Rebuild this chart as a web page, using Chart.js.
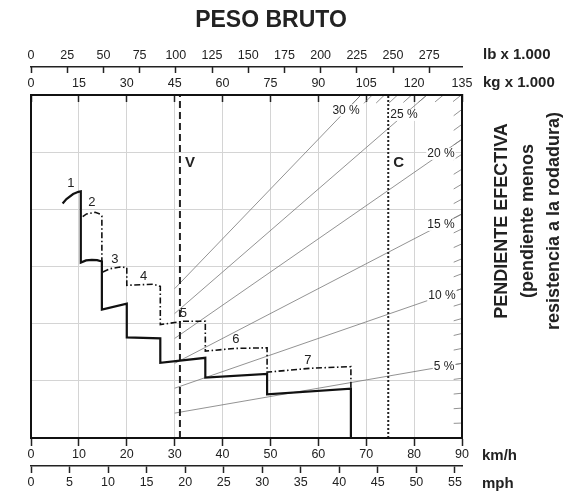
<!DOCTYPE html>
<html>
<head>
<meta charset="utf-8">
<title>Peso bruto / pendiente efectiva</title>
<script src="https://cdn.jsdelivr.net/npm/chart.js"></script>
<style>
	html, body { margin: 0; padding: 0; background: #fff; }
</style>
</head>
<body>
<canvas id="rimpull" width="580" height="495"></canvas>

<script>
	// ------------------
	// --- Chart data ---
	// ------------------
	var kmhTicks = [0, 10, 20, 30, 40, 50, 60, 70, 80, 90];
	var mphTicks = [0, 5, 10, 15, 20, 25, 30, 35, 40, 45, 50, 55];
	var kgTicks = [0, 15, 30, 45, 60, 75, 90, 105, 120, 135];
	var lbTicks = [0, 25, 50, 75, 100, 125, 150, 175, 200, 225, 250, 275];

	var KMH_PER_MPH = 1.609344;
	var KG_PER_LB = 0.45359237;
	var RIMPULL_MAX = 31;

	// full-throttle curve (solid), gears 1 to 7 with the drops between them
	var solidKmh = [6.6, 7.4, 8.8, 9.9, 10.4, 10.4, 11.5, 12.7, 13.8, 14.8, 14.8, 20.0, 20.0, 27.0, 27.0, 36.4, 36.4, 49.3, 49.3, 66.8, 66.8];
	var solidRimpull = [21.2, 21.6, 22.05, 22.25, 22.3, 15.85, 16.05, 16.1, 16.08, 15.95, 11.6, 12.15, 9.1, 9.0, 6.8, 7.25, 5.45, 5.8, 3.95, 4.45, 0];

	// second curve (dash-dot), gear 2 on its own, then gears 3 to 7
	var dashKmh = [10.8, 11.6, 13.4, 14.4, 14.8, 14.8, null, 15.0, 16.5, 18.6, 20.0, 20.0, 25.5, 27.0, 27.0, 31.8, 36.4, 36.4, 42.6, 49.3, 49.3, 58.3, 66.8, 66.8];
	var dashRimpull = [20.0, 20.25, 20.4, 20.25, 20.05, 16.0, null, 15.0, 15.3, 15.45, 15.4, 13.8, 13.9, 13.7, 10.25, 10.55, 10.55, 7.85, 8.1, 8.15, 5.95, 6.3, 6.45, 4.5];

	var gearLabels = ['1', '2', '3', '4', '5', '6', '7'];
	var gearLabelKmh = [8.3, 12.7, 17.5, 23.5, 31.8, 42.8, 57.8];
	var gearLabelRimpull = [23.0, 21.3, 16.1, 14.6, 11.25, 8.9, 7.0];

	// effective grade lines (rimpull = grade x gross weight)
	var gradePct = [5, 10, 15, 20, 25, 30];
	var gradeStartKg = 45;
	var gradeLabelKg = [129.4, 128.7, 128.4, 128.4, 116.8, 98.7];
	var hatchPct = [1, 2, 3, 4, 5, 6, 7, 8, 9, 10, 11, 12, 13, 14, 15, 16, 17, 18, 19, 20, 21, 22, 23, 24, 25, 26, 27, 28, 29, 30];

	// speed limits
	var limitNames = ['V', 'C'];
	var limitKmh = [31.1, 74.6];

	// -------------------------
	// --- Build the datasets ---
	// -------------------------
	function points(xs, ys) {
		var out = [];
		for (var i = 0; i < xs.length; i++) {
			out.push({ x: xs[i], y: ys[i] });
		}
		return out;
	}

	var gradeData = [];
	gradePct.forEach(function (p) {
		gradeData.push({ x: gradeStartKg, y: p * gradeStartKg / 100 });
		gradeData.push({ x: 135, y: p * 135 / 100 });
		gradeData.push({ x: null, y: null });
	});

	// short pieces of every 1 % line where it meets the frame
	var hatchData = [];
	hatchPct.forEach(function (p) {
		var kg = Math.min(135, RIMPULL_MAX * 100 / p);
		hatchData.push({ x: kg, y: p * kg / 100 });
		hatchData.push({ x: kg - 2.6, y: p * (kg - 2.6) / 100 });
		hatchData.push({ x: null, y: null });
	});

	function limitLine(kmh, dash) {
		return {
			data: [{ x: kmh, y: 0 }, { x: kmh, y: RIMPULL_MAX }],
			borderColor: '#222',
			borderWidth: 2,
			borderDash: dash,
			pointRadius: 0
		};
	}

	function fixedTicks(list) {
		return function (scale) {
			scale.ticks = list.map(function (v) { return { value: v }; });
		};
	}
	function boxHeight(h) {
		return function (scale) { scale.height = h; };
	}

	var FONT = '"Liberation Sans", Arial, Helvetica, sans-serif';
	Chart.defaults.font.family = FONT;
	Chart.defaults.color = '#222';

	// Texts, frame and labels drawn on top of the datasets
	var chartText = {
		id: 'chartText',
		afterDatasetsDraw: function (chart) {
			var ctx = chart.ctx;
			var area = chart.chartArea;
			var sx = chart.scales.x;
			var sy = chart.scales.y;
			var skg = chart.scales.kg;
			ctx.save();

			// grade labels sit in a gap of their line
			ctx.font = '12px ' + FONT;
			ctx.textAlign = 'center';
			ctx.textBaseline = 'middle';
			gradePct.forEach(function (p, i) {
				var kg = gradeLabelKg[i];
				var px = skg.getPixelForValue(kg);
				var py = sy.getPixelForValue(p * kg / 100);
				var text = p + ' %';
				var w = ctx.measureText(text).width;
				ctx.fillStyle = '#fff';
				ctx.fillRect(px - w / 2 - 1, py - 6, w + 2, 12);
				ctx.fillStyle = '#222';
				ctx.fillText(text, px, py);
			});

			// gear numbers
			ctx.font = '13px ' + FONT;
			gearLabels.forEach(function (g, i) {
				ctx.fillText(g, sx.getPixelForValue(gearLabelKmh[i]), sy.getPixelForValue(gearLabelRimpull[i]));
			});

			// V and C
			ctx.font = 'bold 15px ' + FONT;
			ctx.textAlign = 'left';
			limitNames.forEach(function (n, i) {
				ctx.fillText(n, sx.getPixelForValue(limitKmh[i]) + 5, 163);
			});

			// frame
			ctx.strokeStyle = '#111';
			ctx.lineWidth = 2;
			ctx.strokeRect(area.left, area.top, area.right - area.left, area.bottom - area.top);

			// title
			ctx.font = 'bold 23px ' + FONT;
			ctx.textAlign = 'center';
			ctx.fillText('PESO BRUTO', 271, 21);

			// axis units
			ctx.font = 'bold 15px ' + FONT;
			ctx.textAlign = 'left';
			ctx.fillText('lb x 1.000', 483, 55);
			ctx.fillText('kg x 1.000', 483, 83);
			ctx.fillText('km/h', 482, 456);
			ctx.fillText('mph', 482, 484);

			// rotated side caption
			ctx.translate(528, 221);
			ctx.rotate(-Math.PI / 2);
			ctx.font = 'bold 18px ' + FONT;
			ctx.textAlign = 'center';
			ctx.fillText('PENDIENTE EFECTIVA', 0, -26);
			ctx.fillText('(pendiente menos', 0, 0);
			ctx.fillText('resistencia a la rodadura)', 0, 26);

			ctx.restore();
		}
	};

	var ctx = document.getElementById('rimpull').getContext('2d');
	new Chart(ctx, {
		type: 'line',
		data: {
			datasets: [
				{
					data: points(solidKmh, solidRimpull),
					borderColor: '#111',
					borderWidth: 2.2,
					pointRadius: 0
				},
				{
					data: points(dashKmh, dashRimpull),
					borderColor: '#111',
					borderWidth: 1.6,
					borderDash: [6, 2.5, 1.5, 2.5],
					pointRadius: 0
				},
				limitLine(limitKmh[0], [7, 4]),
				limitLine(limitKmh[1], [2, 2]),
				{
					data: gradeData,
					xAxisID: 'kg',
					borderColor: '#777',
					borderWidth: 0.8,
					pointRadius: 0
				},
				{
					data: hatchData,
					xAxisID: 'kg',
					borderColor: '#777',
					borderWidth: 0.8,
					pointRadius: 0
				}
			]
		},
		options: {
			responsive: false,
			animation: false,
			layout: { padding: { top: 40, left: 31, right: 118, bottom: 0 } },
			scales: {
				x: {
					type: 'linear', axis: 'x', position: 'bottom', weight: 0,
					min: 0, max: 90,
					afterBuildTicks: fixedTicks(kmhTicks),
					afterFit: boxHeight(28),
					grid: { color: '#d4d4d4', lineWidth: 1, tickLength: 8, tickColor: '#222', tickWidth: 1.5 },
					border: { color: '#111', width: 2 },
					ticks: { padding: 1, font: { size: 12.5 }, maxRotation: 0, autoSkip: false }
				},
				mph: {
					type: 'linear', axis: 'x', position: 'bottom', weight: 1,
					min: 0, max: 90 / KMH_PER_MPH,
					afterBuildTicks: fixedTicks(mphTicks),
					afterFit: boxHeight(29),
					grid: { drawOnChartArea: false, tickLength: 7, tickColor: '#222', tickWidth: 1.5 },
					border: { color: '#222', width: 1.5 },
					ticks: { padding: 2, font: { size: 12.5 }, maxRotation: 0, autoSkip: false }
				},
				kg: {
					type: 'linear', axis: 'x', position: 'top', weight: 0,
					min: 0, max: 135,
					afterBuildTicks: fixedTicks(kgTicks),
					afterFit: boxHeight(28),
					grid: { drawOnChartArea: false, tickLength: -7, tickColor: '#222', tickWidth: 1.5 },
					border: { color: '#111', width: 2 },
					ticks: { padding: 11, font: { size: 12.5 }, maxRotation: 0, autoSkip: false }
				},
				lb: {
					type: 'linear', axis: 'x', position: 'top', weight: 1,
					min: 0, max: 135 / KG_PER_LB,
					afterBuildTicks: fixedTicks(lbTicks),
					afterFit: boxHeight(27),
					grid: { drawOnChartArea: false, tickLength: -6, tickColor: '#222', tickWidth: 1.5 },
					border: { color: '#222', width: 1.5 },
					ticks: { padding: 10, font: { size: 12.5 }, maxRotation: 0, autoSkip: false }
				},
				y: {
					type: 'linear', position: 'left',
					min: 0, max: RIMPULL_MAX,
					afterFit: function (scale) { scale.width = 0; },
					grid: { color: '#d4d4d4', lineWidth: 1, drawTicks: false },
					border: { display: false },
					ticks: { display: false, count: 7 }
				}
			},
			plugins: {
				legend: { display: false },
				tooltip: { enabled: false }
			}
		},
		plugins: [chartText]
	});
</script>
</body>
</html>
